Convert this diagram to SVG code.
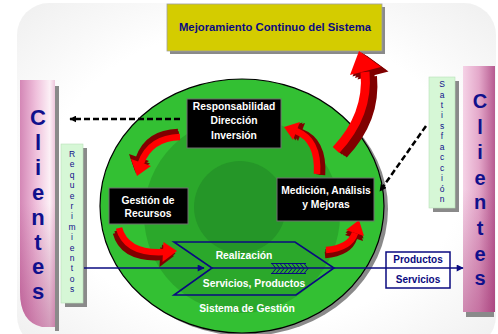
<svg xmlns="http://www.w3.org/2000/svg" width="498" height="334" viewBox="0 0 498 334">
<defs>
  <radialGradient id="bg" cx="50%" cy="50%" r="72%">
    <stop offset="0.6" stop-color="#ffffff"/>
    <stop offset="1" stop-color="#eeeeee"/>
  </radialGradient>
  <linearGradient id="pinkL" x1="0" y1="0" x2="1" y2="0">
    <stop offset="0" stop-color="#d487b6"/>
    <stop offset="0.45" stop-color="#efbfdb"/>
    <stop offset="0.85" stop-color="#fcf0f6"/>
    <stop offset="1" stop-color="#eec6dc"/>
  </linearGradient>
  <linearGradient id="pinkR" x1="0" y1="0" x2="1" y2="0">
    <stop offset="0" stop-color="#f5d2e6"/>
    <stop offset="0.5" stop-color="#e4a8ca"/>
    <stop offset="1" stop-color="#b65a90"/>
  </linearGradient>
  <linearGradient id="shadeV" x1="0" y1="0" x2="0" y2="1">
    <stop offset="0.5" stop-color="#a03070" stop-opacity="0"/>
    <stop offset="1" stop-color="#a03070" stop-opacity="0.45"/>
  </linearGradient>
  <marker id="ahB" viewBox="0 0 10 10" refX="9" refY="5" markerWidth="7" markerHeight="7" markerUnits="userSpaceOnUse" orient="auto">
    <path d="M0,0 L10,5 L0,10 z" fill="#000"/>
  </marker>
  <marker id="ahN" viewBox="0 0 10 10" refX="9" refY="5" markerWidth="8" markerHeight="7" markerUnits="userSpaceOnUse" orient="auto">
    <path d="M0,0 L10,5 L0,10 z" fill="#0a0a80"/>
  </marker>
  <g id="a1"><path d="M336,150 Q369,115 365,72" fill="none" stroke="currentColor" stroke-width="9"/><polygon points="359,51 381,67 350,75" fill="currentColor"/></g>
  <g id="a2"><path d="M180,137 Q150,138 141,163" fill="none" stroke="currentColor" stroke-width="6.5"/><polygon points="137,176 151,166 131,159" fill="currentColor"/></g>
  <g id="a3"><path d="M119,228 Q126,254 164,252" fill="none" stroke="currentColor" stroke-width="6.5"/><polygon points="177,251 163.5,242 162.5,262" fill="currentColor"/></g>
  <g id="a4"><path d="M326,250 Q350,248 355,233" fill="none" stroke="currentColor" stroke-width="6.5"/><polygon points="359,220 364,236 346,230" fill="currentColor"/></g>
  <g id="a5"><path d="M317,174 Q319,140 296,131" fill="none" stroke="currentColor" stroke-width="6.5"/><polygon points="284,127 300,122 293,140" fill="currentColor"/></g>
</defs>
<style>
  .t{font-family:"Liberation Sans",Arial,sans-serif;font-weight:bold;}
  .w{fill:#ffffff;font-size:10.3px;text-anchor:middle;}
  .nv{fill:#0a0a80;text-anchor:middle;}
  .cl{font-size:22px;fill:#10108c;text-anchor:middle;}
  .sm{font-family:"Liberation Sans",Arial,sans-serif;font-size:8.5px;fill:#10108c;text-anchor:middle;}
  .shadow{fill:#8a8a8a;}
  .blk{fill:#000;stroke:#707070;stroke-width:1;}
  .dash{fill:none;stroke:#000;stroke-width:2.5;stroke-dasharray:6,3;}
  .nl{fill:none;stroke:#0a0a80;stroke-width:1.6;}
  .dk{color:#800000;}
  .rd{color:#ff0000;}
</style>

<rect x="0" y="0" width="498" height="334" fill="#ffffff"/>
<rect x="17" y="3" width="479" height="345" rx="32" fill="url(#bg)"/>

<!-- Clientes left -->
<g id="clientes-izq">
  <rect class="shadow" x="55" y="86" width="4" height="245"/>
  <path d="M20,80 H55 V327 H42 Q20,322 20,292 Z" fill="url(#pinkL)"/>
  <path d="M20,80 H55 V327 H42 Q20,322 20,292 Z" fill="url(#shadeV)"/>
  <text class="t cl" x="38" y="125">C</text>
  <text class="t cl" x="38" y="150">l</text>
  <text class="t cl" x="38" y="175">i</text>
  <text class="t cl" x="38" y="200">e</text>
  <text class="t cl" x="38" y="225">n</text>
  <text class="t cl" x="38" y="250">t</text>
  <text class="t cl" x="38" y="274">e</text>
  <text class="t cl" x="38" y="299">s</text>
</g>

<!-- Clientes right -->
<g id="clientes-der">
  <rect class="shadow" x="466" y="312" width="28" height="5"/>
  <rect x="463" y="66" width="32" height="246" fill="url(#pinkR)"/>
  <rect x="463" y="66" width="32" height="246" fill="url(#shadeV)"/>
  <text class="t cl" style="font-size:20px" x="480" y="108">C</text>
  <text class="t cl" style="font-size:20px" x="480" y="134">l</text>
  <text class="t cl" style="font-size:20px" x="480" y="159">i</text>
  <text class="t cl" style="font-size:20px" x="480" y="185">e</text>
  <text class="t cl" style="font-size:20px" x="480" y="209">n</text>
  <text class="t cl" style="font-size:20px" x="480" y="235">t</text>
  <text class="t cl" style="font-size:20px" x="480" y="261">e</text>
  <text class="t cl" style="font-size:20px" x="480" y="285">s</text>
</g>

<!-- Yellow box -->
<g id="mejoramiento">
  <rect class="shadow" x="170" y="7" width="215" height="47"/>
  <rect x="167" y="4" width="215" height="47" fill="#d4cc00" stroke="#a0a0a0" stroke-width="0.8"/>
  <text class="t nv" style="font-size:11.3px" x="275" y="31">Mejoramiento Continuo del Sistema</text>
</g>

<!-- Circle -->
<g id="sistema">
  <ellipse class="shadow" cx="246" cy="209" rx="142" ry="127"/>
  <ellipse cx="242" cy="206" rx="142" ry="127" fill="#33c033" stroke="#000" stroke-width="1.2"/>
  <circle cx="242" cy="215" r="98" fill="#2ba82b"/>
  <circle cx="240" cy="207" r="46" fill="#259628"/>
  <text class="t w" x="247" y="312">Sistema de Gestión</text>
</g>

<!-- Requerimientos -->
<g id="requerimientos">
  <rect class="shadow" x="83" y="148" width="4" height="159"/>
  <rect class="shadow" x="65" y="303" width="22" height="4"/>
  <rect x="61" y="144" width="22" height="159" fill="#d6f7d6" stroke="#b8e0b8" stroke-width="0.6"/>
  <text class="sm">
    <tspan x="72" y="157">R</tspan><tspan x="72" y="167.4">e</tspan><tspan x="72" y="177.8">q</tspan><tspan x="72" y="188.2">u</tspan><tspan x="72" y="198.6">e</tspan><tspan x="72" y="209">r</tspan><tspan x="72" y="219.4">i</tspan><tspan x="72" y="229.8">m</tspan><tspan x="72" y="240.2">i</tspan><tspan x="72" y="250.6">e</tspan><tspan x="72" y="261">n</tspan><tspan x="72" y="271.4">t</tspan><tspan x="72" y="281.8">o</tspan><tspan x="72" y="292.2">s</tspan>
  </text>
</g>

<!-- Satisfaccion -->
<g id="satisfaccion">
  <rect class="shadow" x="455" y="81" width="4" height="131"/>
  <rect class="shadow" x="433" y="208" width="26" height="4"/>
  <rect x="429" y="77" width="26" height="131" fill="#d6f7d6" stroke="#b8e0b8" stroke-width="0.6"/>
  <text class="sm">
    <tspan x="442" y="87">S</tspan><tspan x="442" y="97.5">a</tspan><tspan x="442" y="107.9">t</tspan><tspan x="442" y="118.4">i</tspan><tspan x="442" y="128.8">s</tspan><tspan x="442" y="139.3">f</tspan><tspan x="442" y="149.7">a</tspan><tspan x="442" y="160.2">c</tspan><tspan x="442" y="170.6">c</tspan><tspan x="442" y="181.1">i</tspan><tspan x="442" y="191.5">ó</tspan><tspan x="442" y="202">n</tspan>
  </text>
</g>

<!-- Connectors -->
<g id="connectors">
  <line class="dash" x1="180" y1="119" x2="70" y2="119" marker-end="url(#ahB)"/>
  <line class="dash" x1="426" y1="126" x2="380" y2="191" marker-end="url(#ahB)"/>
  <line class="nl" x1="84" y1="268" x2="204" y2="268" marker-end="url(#ahN)"/>
  <line class="nl" x1="212" y1="268" x2="463" y2="268" marker-end="url(#ahN)"/>
  <g id="flechas-rojas">
    <use href="#a1" class="dk" transform="translate(2.5,1.5)"/>
    <use href="#a1" class="dk" transform="translate(5,3)"/>
    <use href="#a1" class="dk" transform="translate(7.5,4.5)"/>
    <use href="#a1" class="rd"/>
    <use href="#a2" class="dk" transform="translate(-1,-2.5)"/>
    <use href="#a2" class="dk" transform="translate(-2,-5)"/>
    <use href="#a2" class="rd"/>
    <use href="#a3" class="dk" transform="translate(-1.5,2.5)"/>
    <use href="#a3" class="dk" transform="translate(-3,5)"/>
    <use href="#a3" class="rd"/>
    <use href="#a4" class="dk" transform="translate(-0.5,2.5)"/>
    <use href="#a4" class="dk" transform="translate(-1,5)"/>
    <use href="#a4" class="rd"/>
    <use href="#a5" class="dk" transform="translate(2.5,0.5)"/>
    <use href="#a5" class="dk" transform="translate(5,1)"/>
    <use href="#a5" class="rd"/>
  </g>
</g>

<!-- Realizacion chevron -->
<g id="realizacion">
  <polygon class="nl" points="174,242 295,242 334,268 296,295 174,295 212,268"/>
  <path class="nl" style="stroke-width:1" d="M271,263.5 H306 M271,273.5 H306 M272,263.5 L276,268.5 L272,273.5 M276,263.5 L280,268.5 L276,273.5 M280,263.5 L284,268.5 L280,273.5 M284,263.5 L288,268.5 L284,273.5 M288,263.5 L292,268.5 L288,273.5 M292,263.5 L296,268.5 L292,273.5 M296,263.5 L300,268.5 L296,273.5 M300,263.5 L304,268.5 L300,273.5 M304,263.5 L308,268.5 L304,273.5"/>
  <text class="t w" x="244" y="259">Realización</text>
  <text class="t w" x="254" y="287">Servicios, Productos</text>
</g>

<!-- Black boxes -->
<g id="responsabilidad">
  <rect class="blk" x="187" y="99" width="94" height="49"/>
  <text class="t w" x="234" y="110">Responsabilidad</text>
  <text class="t w" x="234" y="124">Dirección</text>
  <text class="t w" x="234" y="139">Inversión</text>
</g>
<g id="gestion-recursos">
  <rect class="blk" x="109" y="188" width="79" height="36"/>
  <text class="t w" x="148" y="204">Gestión de</text>
  <text class="t w" x="148" y="217">Recursos</text>
</g>
<g id="medicion">
  <rect class="blk" x="277" y="178" width="97" height="43"/>
  <text class="t w" x="326" y="194">Medición, Análisis</text>
  <text class="t w" x="326" y="208">y Mejoras</text>
</g>

<!-- Productos / Servicios -->
<g id="productos">
  <rect x="386" y="252" width="64" height="36" fill="#ffffff" stroke="#0a0a80" stroke-width="1.5"/>
  <line class="nl" x1="386" y1="268" x2="450" y2="268"/>
  <text class="t nv" style="font-size:10px" x="418" y="263">Productos</text>
  <text class="t nv" style="font-size:10px" x="418" y="283">Servicios</text>
</g>
</svg>
